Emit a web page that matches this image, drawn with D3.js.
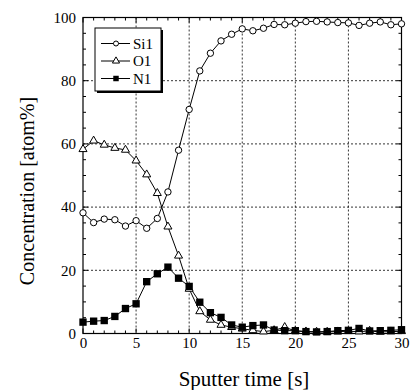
<!DOCTYPE html>
<html><head><meta charset="utf-8">
<script src="https://cdn.jsdelivr.net/npm/d3@7/dist/d3.min.js"></script>
<style>body{margin:0;background:#fff}svg{display:block}</style>
</head><body><svg id="c" width="410" height="390"></svg>
<script>
const time = d3.range(0, 31);
const si1 = [38.2,35.1,36.2,36.0,34.0,35.7,33.3,36.4,44.8,58.0,70.9,83.1,88.7,92.6,94.7,96.4,95.8,96.6,97.8,97.7,98.2,98.7,98.8,98.6,98.4,98.3,97.5,98.2,98.6,97.7,98.0];
const o1 = [58.3,61.0,59.7,58.7,58.1,54.7,50.3,44.4,33.8,24.6,14.1,7.0,4.3,2.7,2.0,1.5,1.0,0.6,1.0,2.0,0.8,0.6,0.5,0.5,0.6,0.7,0.6,0.8,0.5,0.6,0.7];
const n1 = [3.6,3.9,4.1,5.4,7.9,9.4,16.4,18.9,21.0,17.5,14.9,9.9,6.6,5.1,2.7,2.0,2.5,2.7,1.1,0.9,0.9,0.6,0.5,0.6,0.9,1.0,1.6,0.8,0.9,1.0,1.2];
const seriesNames = ["Si1","O1","N1"];
const xTicks = [0,5,10,15,20,25,30];
const yTicks = [0,20,40,60,80,100];

const svg = d3.select("#c");
const L=83, R=401.5, T=17.5, B=333.5;
const x = d3.scaleLinear().domain([0,30]).range([L,R]);
const y = d3.scaleLinear().domain([0,100]).range([B,T]);
const font = "'Liberation Serif','Times New Roman',serif";

// grid
const g = svg.append("g");
g.selectAll(".gx").data(xTicks.slice(1,-1)).enter().append("line")
 .attr("x1",d=>x(d)).attr("x2",d=>x(d)).attr("y1",T).attr("y2",B)
 .attr("stroke","#000").attr("stroke-width",0.8).attr("stroke-dasharray","2,2");
g.selectAll(".gy").data(yTicks.slice(1,-1)).enter().append("line")
 .attr("y1",d=>y(d)).attr("y2",d=>y(d)).attr("x1",L).attr("x2",R)
 .attr("stroke","#000").attr("stroke-width",0.8).attr("stroke-dasharray","2,2");

// axes with inner ticks
const xMinor = d3.range(0,31,1), yMinor = d3.range(0,101,5);
function ticksX(yy, dir){
  svg.append("g").selectAll("line").data(xMinor).enter().append("line")
   .attr("x1",d=>x(d)).attr("x2",d=>x(d)).attr("y1",yy)
   .attr("y2",d=>yy+dir*(d%5===0?5:3)).attr("stroke","#000").attr("stroke-width",1);
}
function ticksY(xx, dir){
  svg.append("g").selectAll("line").data(yMinor).enter().append("line")
   .attr("y1",d=>y(d)).attr("y2",d=>y(d)).attr("x1",xx)
   .attr("x2",d=>xx+dir*(d%20===0?5:3)).attr("stroke","#000").attr("stroke-width",1);
}
ticksX(B,-1); ticksX(T,1); ticksY(L,1); ticksY(R,-1);
svg.append("rect").attr("x",L).attr("y",T).attr("width",R-L).attr("height",B-T)
 .attr("fill","none").attr("stroke","#000").attr("stroke-width",1.2);

// tick labels via axes
const xAxis = d3.axisBottom(x).tickValues(xTicks).tickSize(0).tickPadding(4);
const ax = svg.append("g").attr("transform",`translate(0,${B})`).call(xAxis);
ax.select(".domain").remove();
ax.selectAll("text").attr("font-family",font).attr("font-size",15).attr("fill","#000");
const yAxis = d3.axisLeft(y).tickValues(yTicks).tickSize(0).tickPadding(7);
const ay = svg.append("g").attr("transform",`translate(${L},0)`).call(yAxis);
ay.select(".domain").remove();
ay.selectAll("text").attr("font-family",font).attr("font-size",15).attr("fill","#000");

// titles
svg.append("text").attr("x",244).attr("y",386).attr("text-anchor","middle")
 .attr("font-family",font).attr("font-size",21).text("Sputter time [s]");
svg.append("text").attr("transform",`translate(34,191) rotate(-90)`).attr("text-anchor","middle")
 .attr("font-family",font).attr("font-size",20).text("Concentration [atom%]");

// series
const line = d3.line().x((d,i)=>x(time[i])).y(d=>y(d));
const tri = d3.symbol().type(d3.symbolTriangle).size(28);
const sq = d3.symbol().type(d3.symbolSquare).size(54);
const plot = svg.append("g");
function drawLine(data){
  plot.append("path").datum(data).attr("d",line).attr("fill","none").attr("stroke","#000").attr("stroke-width",1);
}
drawLine(si1); drawLine(o1); drawLine(n1);
plot.selectAll(".s").data(si1).enter().append("circle")
 .attr("cx",(d,i)=>x(time[i])).attr("cy",d=>y(d)).attr("r",3.2)
 .attr("fill","#fff").attr("stroke","#000").attr("stroke-width",1);
plot.selectAll(".o").data(o1).enter().append("path").attr("d",tri)
 .attr("transform",(d,i)=>`translate(${x(time[i])},${y(d)})`)
 .attr("fill","#fff").attr("stroke","#000").attr("stroke-width",1);
plot.selectAll(".n").data(n1).enter().append("path").attr("d",sq)
 .attr("transform",(d,i)=>`translate(${x(time[i])},${y(d)})`)
 .attr("fill","#000");

// legend
const lg = svg.append("g");
lg.append("rect").attr("x",97).attr("y",30).attr("width",66).attr("height",63).attr("fill","#000");
lg.append("rect").attr("x",95).attr("y",28).attr("width",66).attr("height",63).attr("fill","#fff").attr("stroke","#000").attr("stroke-width",1);
seriesNames.forEach((nm,i)=>{
  const yy = 43.5 + i*17.5;
  lg.append("line").attr("x1",101).attr("x2",130).attr("y1",yy).attr("y2",yy).attr("stroke","#000");
  if(i===0) lg.append("circle").attr("cx",116).attr("cy",yy).attr("r",2.5).attr("fill","#fff").attr("stroke","#000");
  if(i===1) lg.append("path").attr("d",d3.symbol().type(d3.symbolTriangle).size(22)).attr("transform",`translate(116,${yy})`).attr("fill","#fff").attr("stroke","#000");
  if(i===2) lg.append("path").attr("d",d3.symbol().type(d3.symbolSquare).size(30)).attr("transform",`translate(116,${yy})`).attr("fill","#000");
  lg.append("text").attr("x",133).attr("y",yy+5).attr("font-family",font).attr("font-size",15).text(nm);
});
</script></body></html>
